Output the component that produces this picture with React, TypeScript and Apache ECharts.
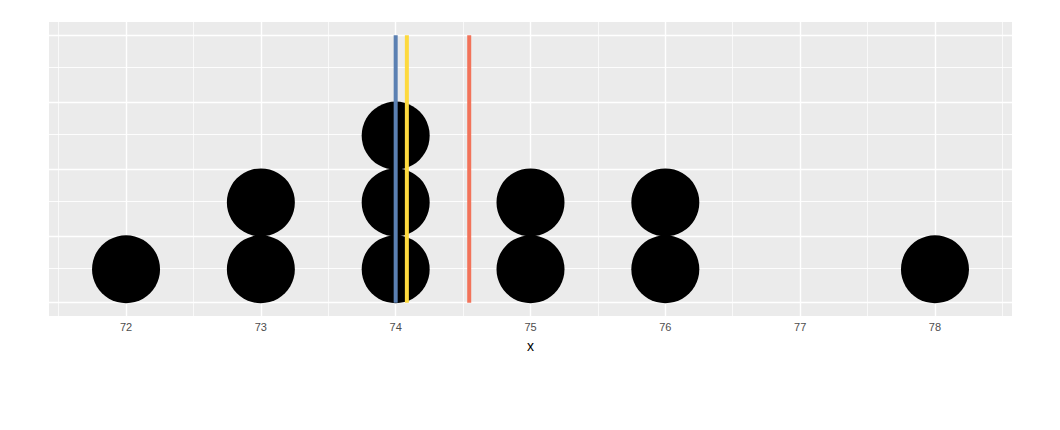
import React, { useEffect, useRef } from "react";
import * as echarts from "echarts";

const values: number[] = [72, 73, 73, 74, 74, 74, 75, 75, 76, 76, 78];
const xTicks: number[] = [72, 73, 74, 75, 76, 77, 78];
const xMinor: number[] = [71.5, 72.5, 73.5, 74.5, 75.5, 76.5, 77.5, 78.5];
const yMajor: number[] = [0, 0.25, 0.5, 0.75, 1];
const yMinor: number[] = [0.125, 0.375, 0.625, 0.875];
const medianValue = 74;
const otherValue = 74.083;
const meanValue = 820 / 11;
const xMin = 71.4286;
const xMax = 78.5714;

export default function App() {
  const ref = useRef<HTMLDivElement>(null);
  useEffect(() => {
    document.body.style.margin = "0";
    if (!ref.current) return;
    const chart = echarts.init(ref.current, null, { renderer: "svg" });

    const counts: Record<number, number> = {};
    const dots = values.map((v) => {
      const k = counts[v] || 0;
      counts[v] = k + 1;
      return [v, 0.125 + 0.25 * k];
    });

    const gridLine = (vals: number[], key: "xAxis" | "yAxis", width: number) => ({
      type: "line",
      data: [],
      silent: true,
      z: 1,
      markLine: {
        silent: true,
        z: 1,
        symbol: "none",
        label: { show: false },
        animation: false,
        lineStyle: { color: "#ffffff", width, type: "solid", opacity: 1 },
        emphasis: { disabled: true },
        data: vals.map((v) => ({ [key]: v })),
      },
    });

    const vline = (x: number, color: string) => ({
      type: "line",
      data: [[x, 0], [x, 1]],
      symbol: "none",
      silent: true,
      lineStyle: { color, width: 4 },
      z: 6,
    });

    chart.setOption({
      animation: false,
      grid: {
        left: 49,
        right: 48,
        top: 22,
        bottom: 114,
        show: true,
        backgroundColor: "#EBEBEB",
        borderWidth: 0,
      },
      xAxis: {
        type: "value",
        min: xMin,
        max: xMax,
        name: "x",
        nameLocation: "middle",
        nameGap: 23,
        nameTextStyle: { color: "#000000", fontSize: 14, fontFamily: "Liberation Sans" },
        splitLine: { show: false },
        axisLine: { show: false },
        axisTick: {
          show: true,
          length: 3,
          lineStyle: { color: "#333333", width: 1 },
          customValues: xTicks,
        },
        axisLabel: {
          show: true,
          color: "#4D4D4D",
          fontSize: 11,
          margin: 5,
          fontFamily: "Liberation Sans",
          customValues: xTicks,
        },
      },
      yAxis: {
        type: "value",
        min: -0.05,
        max: 1.05,
        show: false,
        splitLine: { show: false },
      },
      series: [
        gridLine(xMinor, "xAxis", 0.7),
        gridLine(yMinor, "yAxis", 0.9),
        gridLine(xTicks, "xAxis", 1.4),
        gridLine(yMajor, "yAxis", 1.4),
        {
          type: "scatter",
          data: dots,
          symbol: "circle",
          symbolSize: 68,
          itemStyle: { color: "#000000", opacity: 1 },
          silent: true,
          z: 4,
        },
        vline(medianValue, "#5B80B2"),
        vline(otherValue, "#FDD93E"),
        vline(meanValue, "#F2735A"),
      ],
    });
    return () => chart.dispose();
  }, []);
  return (
    <div
      ref={ref}
      style={{ position: "absolute", left: 0, top: 0, width: 1060, height: 430 }}
    />
  );
}
